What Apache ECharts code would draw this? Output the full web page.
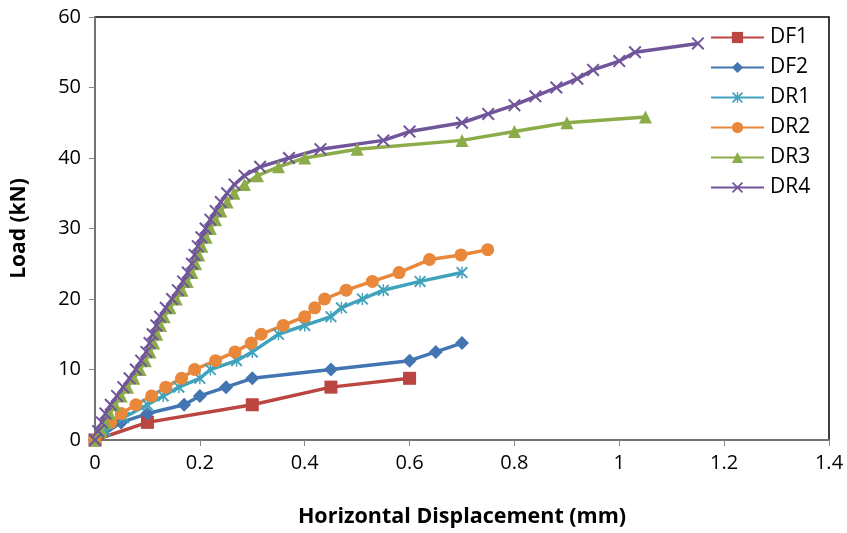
<!DOCTYPE html>
<html>
<head>
<meta charset="utf-8">
<script src="https://cdn.jsdelivr.net/npm/echarts@6/dist/echarts.min.js"></script>
<style>
    html, body { margin: 0; padding: 0; background: #fff; }
    #chart { width: 847px; height: 533px; }
</style>
</head>
<body>
<div id="chart"></div>
<script>
// load / displacement curves, [displacement mm, load kN]
var seriesNames = ['DF1', 'DF2', 'DR1', 'DR2', 'DR3', 'DR4'];

var df1 = [[0, 0], [0.1, 2.5], [0.3, 5], [0.45, 7.5], [0.6, 8.75]];

var df2 = [[0, 0], [0.05, 2.5], [0.1, 3.75], [0.17, 5], [0.2, 6.25], [0.25, 7.5],
    [0.3, 8.75], [0.45, 10], [0.6, 11.25], [0.65, 12.5], [0.7, 13.75]];

var dr1 = [[0, 0], [0.02, 1.25], [0.055, 3.2], [0.1, 5], [0.13, 6.25], [0.16, 7.5],
    [0.2, 8.75], [0.22, 10], [0.27, 11.25], [0.3, 12.5], [0.35, 15], [0.4, 16.25],
    [0.45, 17.5], [0.47, 18.75], [0.51, 20], [0.55, 21.25], [0.62, 22.5], [0.7, 23.75]];

var dr2 = [[0, 0], [0.03, 2.5], [0.05, 3.75], [0.078, 5], [0.108, 6.25], [0.135, 7.5],
    [0.165, 8.75], [0.19, 10], [0.23, 11.25], [0.267, 12.5], [0.298, 13.75], [0.317, 15],
    [0.359, 16.25], [0.4, 17.5], [0.419, 18.75], [0.438, 20], [0.479, 21.25], [0.529, 22.5],
    [0.58, 23.75], [0.638, 25.6], [0.698, 26.25], [0.749, 27]];

var dr3 = [[0, 0], [0.012, 1.25], [0.02, 2.5], [0.028, 3.75], [0.038, 5], [0.05, 6.25],
    [0.062, 7.5], [0.074, 8.75], [0.086, 10], [0.096, 11.25], [0.105, 12.5], [0.112, 13.75],
    [0.118, 15], [0.125, 16.25], [0.132, 17.5], [0.143, 18.75], [0.155, 20], [0.166, 21.25],
    [0.176, 22.5], [0.185, 23.75], [0.192, 25], [0.198, 26.25], [0.204, 27.5], [0.212, 28.75],
    [0.22, 30], [0.23, 31.25], [0.24, 32.5], [0.252, 33.75], [0.265, 35], [0.285, 36.25],
    [0.31, 37.5], [0.35, 38.75], [0.4, 40], [0.5, 41.25], [0.7, 42.5], [0.8, 43.75],
    [0.9, 45], [1.05, 45.8]];

var dr4 = [[0, 0], [0.006, 1.25], [0.013, 2.5], [0.02, 3.75], [0.03, 5], [0.042, 6.25],
    [0.054, 7.5], [0.066, 8.75], [0.078, 10], [0.088, 11.25], [0.098, 12.5], [0.104, 13.75],
    [0.11, 15], [0.117, 16.25], [0.124, 17.5], [0.135, 18.75], [0.147, 20], [0.158, 21.25],
    [0.168, 22.5], [0.177, 23.75], [0.185, 25], [0.19, 26.25], [0.196, 27.5], [0.203, 28.75],
    [0.211, 30], [0.22, 31.25], [0.23, 32.5], [0.24, 33.75], [0.252, 35], [0.266, 36.25],
    [0.285, 37.5], [0.315, 38.75], [0.37, 40], [0.43, 41.25], [0.55, 42.5], [0.6, 43.75],
    [0.7, 45], [0.75, 46.25], [0.8, 47.5], [0.84, 48.75], [0.88, 50], [0.92, 51.25],
    [0.95, 52.5], [1.0, 53.75], [1.03, 55], [1.15, 56.25]];

var seriesData = [df1, df2, dr1, dr2, dr3, dr4];
var colors = ['#BA4541', '#4275B1', '#41A2BC', '#E9883B', '#8CAC4A', '#71559A'];

var X_PATH = 'path://M0,1.1 L1.1,0 L10,8.9 L8.9,10 Z M8.9,0 L10,1.1 L1.1,10 L0,8.9 Z';
var STAR_PATH = 'path://M0,1.1 L1.1,0 L10,8.9 L8.9,10 Z M8.9,0 L10,1.1 L1.1,10 L0,8.9 Z M4.4,0 L5.6,0 L5.6,10 L4.4,10 Z';
var symbols = ['rect', 'diamond', STAR_PATH, 'circle', 'triangle', X_PATH];
var symbolSizes = [13, 14, 12, 13, 13, 13];

var FONT = '"Open Sans", Lato, sans-serif';

var chart = echarts.init(document.getElementById('chart'));

var series = [];
for (var i = 0; i < seriesNames.length; i++) {
    series.push({
        name: seriesNames[i],
        type: 'line',
        data: seriesData[i],
        symbol: symbols[i],
        symbolSize: symbolSizes[i],
        showAllSymbol: true,
        lineStyle: { color: colors[i], width: 3.5 },
        itemStyle: { color: colors[i], borderWidth: 0 },
        emphasis: { disabled: true },
        animation: false
    });
}

var option = {
    backgroundColor: '#fff',
    color: colors,
    grid: {
        left: 95, right: 18, top: 17, bottom: 92,
        show: true, borderColor: '#000', borderWidth: 1.5, backgroundColor: 'transparent'
    },
    legend: {
        orient: 'vertical',
        left: 706, top: 25,
        itemWidth: 53, itemHeight: 14, itemGap: 9,
        backgroundColor: '#fff',
        padding: [2, 4, 2, 4],
        textStyle: { fontFamily: FONT, fontSize: 21, color: '#000', padding: [0, 0, 0, 1] },
        data: seriesNames
    },
    xAxis: {
        type: 'value', min: 0, max: 1.4, interval: 0.2,
        name: 'Horizontal Displacement (mm)', nameLocation: 'middle', nameGap: 66,
        nameTextStyle: { fontFamily: FONT, fontSize: 21.5, fontWeight: 'bold', color: '#000' },
        axisLine: { show: true, lineStyle: { color: '#868686', width: 1.5 } },
        axisTick: { show: true, inside: false, length: 6, lineStyle: { color: '#868686' } },
        axisLabel: { margin: 13, fontFamily: FONT, fontSize: 20, color: '#000' },
        splitLine: { show: false }
    },
    yAxis: {
        type: 'value', min: 0, max: 60, interval: 10,
        name: 'Load (kN)', nameLocation: 'middle', nameGap: 65, nameRotate: 90,
        nameTextStyle: { fontFamily: FONT, fontSize: 21, fontWeight: 'bold', color: '#000' },
        axisLine: { show: true, lineStyle: { color: '#868686', width: 1.5 } },
        axisTick: { show: true, inside: false, length: 6, lineStyle: { color: '#868686' } },
        axisLabel: { margin: 14, fontFamily: FONT, fontSize: 20, color: '#000' },
        splitLine: { show: false }
    },
    series: series
};

chart.setOption(option);
</script>
</body>
</html>
